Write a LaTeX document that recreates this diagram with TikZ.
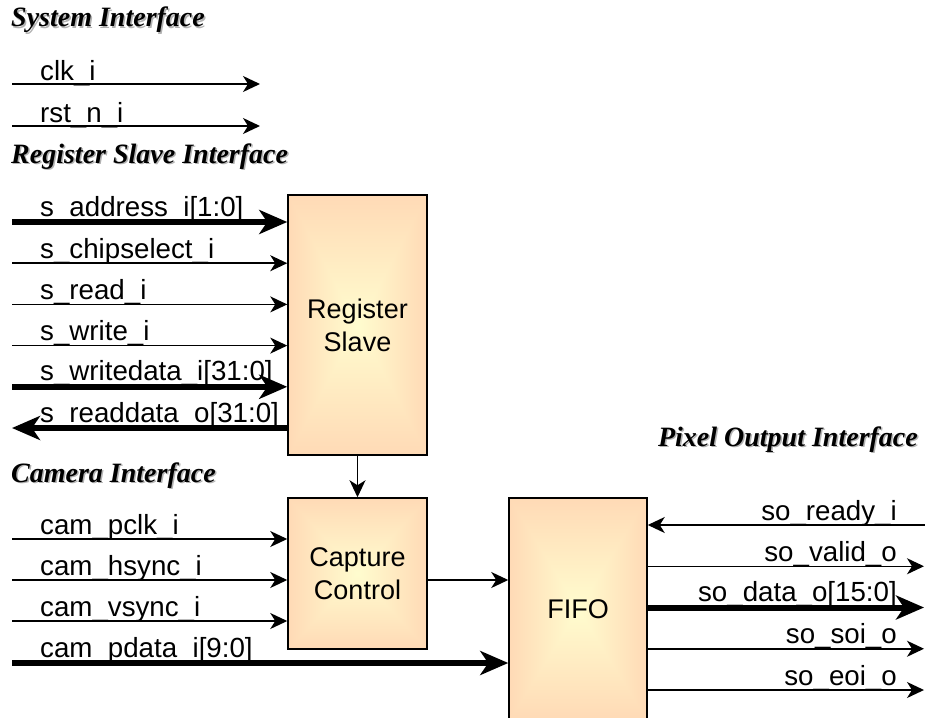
\documentclass[tikz,border=0pt]{standalone}
\usepackage{fontspec}
\usetikzlibrary{arrows.meta}
\newfontfamily\sigfont{Liberation Sans}
\newfontfamily\headfont{Liberation Serif}

% Rectangular glow: pale yellow core fading to peach at the border
\pgfdeclarefunctionalshading{boxglow}{\pgfpoint{-50bp}{-50bp}}{\pgfpoint{50bp}{50bp}}{}{
  abs exch abs 2 copy gt {pop} {exch pop} ifelse
  50 div 0.72 div dup 1 gt {pop 1} if
  dup -0.195 mul 0.99 add exch -0.14 mul 0.81 add 1 3 1 roll
}

\begin{document}
\begin{tikzpicture}[x=1pt,y=-1pt,
  sig/.style={font=\sigfont\fontsize{27.7}{31}\selectfont, inner sep=0pt},
  sigl/.style={sig, anchor=base west},
  sigr/.style={sig, anchor=base east},
  hdr/.style={font=\headfont\bfseries\itshape\fontsize{28}{32}\selectfont, inner sep=0pt, anchor=base west},
  hdrshadow/.style={hdr, text=black!30},
  block/.style={draw=black, line width=1.5pt, shading=boxglow, inner sep=0pt,
    align=center, font=\sigfont\fontsize{27}{33}\selectfont},
  wire/.style={line width=1.5pt, -{Stealth[length=17pt,width=16pt,inset=5pt]}},
  bus/.style={line width=6pt, -{Stealth[length=28pt,width=24pt,inset=8pt]}},
]
\useasboundingbox (0,0) rectangle (925,717);
\clip (0,0) rectangle (925,717);

% ---- blocks ----
\node[block, minimum width=139pt, minimum height=260pt] (rs) at (357.5,325) {Register\\Slave};
\node[block, minimum width=139pt, minimum height=151pt] (cc) at (357.5,573.5) {Capture\\Control};
\node[block, minimum width=138pt, minimum height=222pt] (fifo) at (578,609) {FIFO};

% ---- section headings ----
\node[hdrshadow] (h1s) at (12.5,28.5) {System Interface};
\node[hdr]       (h1)  at (11,27)     {System Interface};
\node[hdrshadow] (h2s) at (12.5,164.5) {Register Slave Interface};
\node[hdr]       (h2)  at (11,163)     {Register Slave Interface};
\node[hdrshadow] (h3s) at (12.5,483.5) {Camera Interface};
\node[hdr]       (h3)  at (11,482)     {Camera Interface};
\node[hdrshadow, anchor=base east] (h4s) at (919.5,447.5) {Pixel Output Interface};
\node[hdr, anchor=base east]       (h4)  at (918,446)     {Pixel Output Interface};

% ---- system interface ----
\coordinate (clkS) at (12,84);   \coordinate (clkE) at (260,84);
\coordinate (rstS) at (12,126);  \coordinate (rstE) at (260,126);
\draw[wire] (clkS) -- (clkE);
\draw[wire] (rstS) -- (rstE);
\node[sigl] (lclk) at (40,80)  {clk\_i};
\node[sigl] (lrst) at (40,122) {rst\_n\_i};

% ---- register slave interface ----
\coordinate (adr) at (12,222);
\coordinate (cs)  at (12,263.2);
\coordinate (rd)  at (12,304.4);
\coordinate (wr)  at (12,345.6);
\coordinate (wd)  at (12,386.8);
\coordinate (rdd) at (12,428);
\draw[bus]  (adr) -- (adr -| rs.west);
\draw[wire] (cs)  -- (cs -| rs.west);
\draw[wire] (rd)  -- (rd -| rs.west);
\draw[wire] (wr)  -- (wr -| rs.west);
\draw[bus]  (wd)  -- (wd -| rs.west);
\draw[bus]  (rdd -| rs.west) -- (rdd);
\node[sigl] (ladr) at (40,216)   {s\_address\_i[1:0]};
\node[sigl] (lcs)  at (40,258)   {s\_chipselect\_i};
\node[sigl] (lrd)  at (40,299.4) {s\_read\_i};
\node[sigl] (lwr)  at (40,340.6) {s\_write\_i};
\node[sigl] (lwd)  at (40,380.8) {s\_writedata\_i[31:0]};
\node[sigl] (lrdd) at (40,422)   {s\_readdata\_o[31:0]};

\draw[wire] (rs.south) -- (cc.north);

% ---- camera interface ----
\coordinate (pclk) at (12,539);
\coordinate (hs)   at (12,580);
\coordinate (vs)   at (12,621);
\coordinate (pd)   at (12,663);
\draw[wire] (pclk) -- (pclk -| cc.west);
\draw[wire] (hs)   -- (hs -| cc.west);
\draw[wire] (vs)   -- (vs -| cc.west);
\draw[bus]  (pd)   -- (pd -| fifo.west);
\node[sigl] (lpclk) at (40,534) {cam\_pclk\_i};
\node[sigl] (lhs)   at (40,575) {cam\_hsync\_i};
\node[sigl] (lvs)   at (40,616) {cam\_vsync\_i};
\node[sigl] (lpd)   at (40,657) {cam\_pdata\_i[9:0]};

\coordinate (ccout) at (0,580);
\draw[wire] (ccout -| cc.east) -- (ccout -| fifo.west);

% ---- pixel output interface ----
\coordinate (rdy) at (925,525);
\coordinate (vld) at (924,566.25);
\coordinate (dat) at (924,607.5);
\coordinate (soi) at (924,648.75);
\coordinate (eoi) at (924,690);
\draw[wire] (rdy) -- (rdy -| fifo.east);
\draw[wire] (vld -| fifo.east) -- (vld);
\draw[bus]  (dat -| fifo.east) -- (dat);
\draw[wire] (soi -| fifo.east) -- (soi);
\draw[wire] (eoi -| fifo.east) -- (eoi);
\node[sigr] (lrdy) at (897,520)    {so\_ready\_i};
\node[sigr] (lvld) at (897,561.25) {so\_valid\_o};
\node[sigr] (ldat) at (897,601.5)  {so\_data\_o[15:0]};
\node[sigr] (lsoi) at (897,643.75) {so\_soi\_o};
\node[sigr] (leoi) at (897,685)    {so\_eoi\_o};
\end{tikzpicture}
\end{document}
